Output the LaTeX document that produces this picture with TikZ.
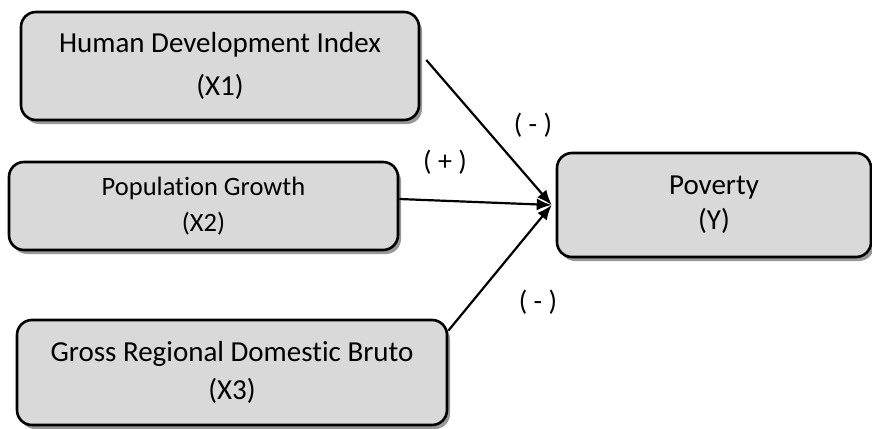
\documentclass[tikz,border=0pt]{standalone}
\usepackage{fontspec}
\setmainfont{Carlito}[Ligatures=NoCommon]
\usetikzlibrary{arrows.meta,shadows}
\definecolor{boxgray}{HTML}{D9D9D9}
\definecolor{shadegray}{HTML}{989898}
\tikzset{every path/.style={line width=2.2pt}, varbox/.style={draw=black, line width=2.6pt, fill=boxgray, rounded corners=15pt, align=center, inner sep=0pt, drop shadow={shadow xshift=3pt, shadow yshift=-4pt, fill=shadegray, opacity=1}}, sign/.style={font=\fontsize{28}{34}\selectfont, inner sep=0pt}}

\begin{document}
\begin{tikzpicture}[x=1pt,y=1pt]
   \useasboundingbox (0,0) rectangle (872,-428);
   \node[varbox, minimum width=398pt, minimum height=108pt, font=\fontsize{29}{43}\selectfont] (hdi) at (220,-66) {Human Development Index\\(X1)};
   \node[varbox, minimum width=389pt, minimum height=88pt, font=\fontsize{26.5}{36}\selectfont] (pg) at (203.5,-206) {Population Growth\\(X2)};
   \node[varbox, minimum width=430pt, minimum height=105pt, font=\fontsize{29}{38}\selectfont] (grdb) at (232,-372.5) {Gross Regional Domestic Bruto\\(X3)};
   \node[varbox, minimum width=314pt, minimum height=104pt, font=\fontsize{29}{35}\selectfont] (pov) at (714,-205) {Poverty\\(Y)};
   \coordinate (tip) at ([xshift=-4pt]pov.west);
   \draw[-{Latex[length=15pt,width=12pt]}] ([shift={(6pt,6pt)}]hdi.east) -- (tip);
   \draw[-{Latex[length=15pt,width=12pt]}] ([yshift=7pt]pg.east) -- (tip);
   \draw[-{Latex[length=15pt,width=12pt]}] ([yshift=-12pt]grdb.north east) -- (tip);
   \node[sign] (s1) at (533,-125) {( - )};
   \node[sign] (s2) at (445,-162) {( + )};
   \node[sign] (s3) at (538,-302) {( - )};
  \end{tikzpicture}
\end{document}
